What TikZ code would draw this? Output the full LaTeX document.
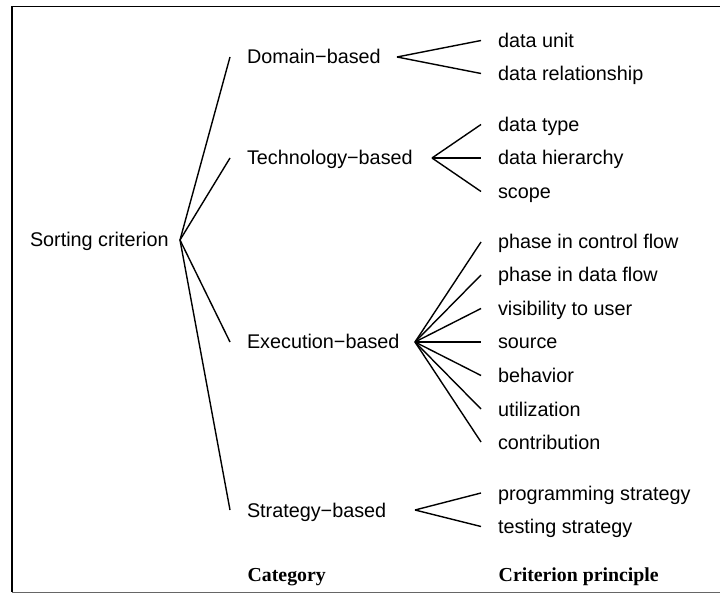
\documentclass[tikz,border=0pt]{standalone}
\usepackage{fontspec}
\setmainfont{Liberation Serif}
\setsansfont{Liberation Sans}
\usepackage{tikz}

\begin{document}
\begin{tikzpicture}[
  x=1pt,y=-1pt,
  line width=1.4pt,
  item/.style={anchor=west,inner sep=0pt,outer xsep=17pt,text height=14pt,text depth=0pt,
    font=\sffamily\fontsize{19.8}{23}\selectfont},
  head/.style={anchor=base west,inner sep=0pt,font=\rmfamily\bfseries\fontsize{19.8}{23}\selectfont}
]
  \useasboundingbox (0,0) rectangle (720,593);
  \draw[line width=1.8pt] (720,6.5) -- (12,6.5) -- (12,592);
  \draw[line width=1pt,black!60] (12,592) -- (720,592);
  \node[item] (root) at (13,240) {Sorting criterion};
  \coordinate (rj) at (180,240);
  \node[item] (dom) at (230,57) {Domain−based};
  \node[item] (tech) at (230,158) {Technology−based};
  \node[item] (exec) at (230,342) {Execution−based};
  \node[item] (strat) at (230,510) {Strategy−based};
  \coordinate (dj) at (397,57);
  \coordinate (tj) at (432,158);
  \coordinate (ej) at (415,342);
  \coordinate (sj) at (415,510);
  \node[item] (unit) at (481,40.5) {data unit};
  \node[item] (rel) at (481,73.5) {data relationship};
  \node[item] (type) at (481,124.5) {data type};
  \node[item] (hier) at (481,158) {data hierarchy};
  \node[item] (scope) at (481,191.5) {scope};
  \node[item] (ctrl) at (481,242) {phase in control flow};
  \node[item] (dflow) at (481,275) {phase in data flow};
  \node[item] (vis) at (481,308.5) {visibility to user};
  \node[item] (src) at (481,342) {source};
  \node[item] (beh) at (481,375.5) {behavior};
  \node[item] (util) at (481,409) {utilization};
  \node[item] (contr) at (481,442) {contribution};
  \node[item] (prog) at (481,493) {programming strategy};
  \node[item] (test) at (481,526.5) {testing strategy};
  \node[head] (cat) at (247,581.7) {Category};
  \node[head] (crit) at (498,581.7) {Criterion principle};
  \draw (rj) -- (dom.west);
  \draw (rj) -- (tech.west);
  \draw (rj) -- (exec.west);
  \draw (rj) -- (strat.west);
  \draw (dj) -- (unit.west);
  \draw (dj) -- (rel.west);
  \draw (tj) -- (type.west);
  \draw (tj) -- (hier.west);
  \draw (tj) -- (scope.west);
  \draw (ej) -- (ctrl.west);
  \draw (ej) -- (dflow.west);
  \draw (ej) -- (vis.west);
  \draw (ej) -- (src.west);
  \draw (ej) -- (beh.west);
  \draw (ej) -- (util.west);
  \draw (ej) -- (contr.west);
  \draw (sj) -- (prog.west);
  \draw (sj) -- (test.west);
\end{tikzpicture}
\end{document}
